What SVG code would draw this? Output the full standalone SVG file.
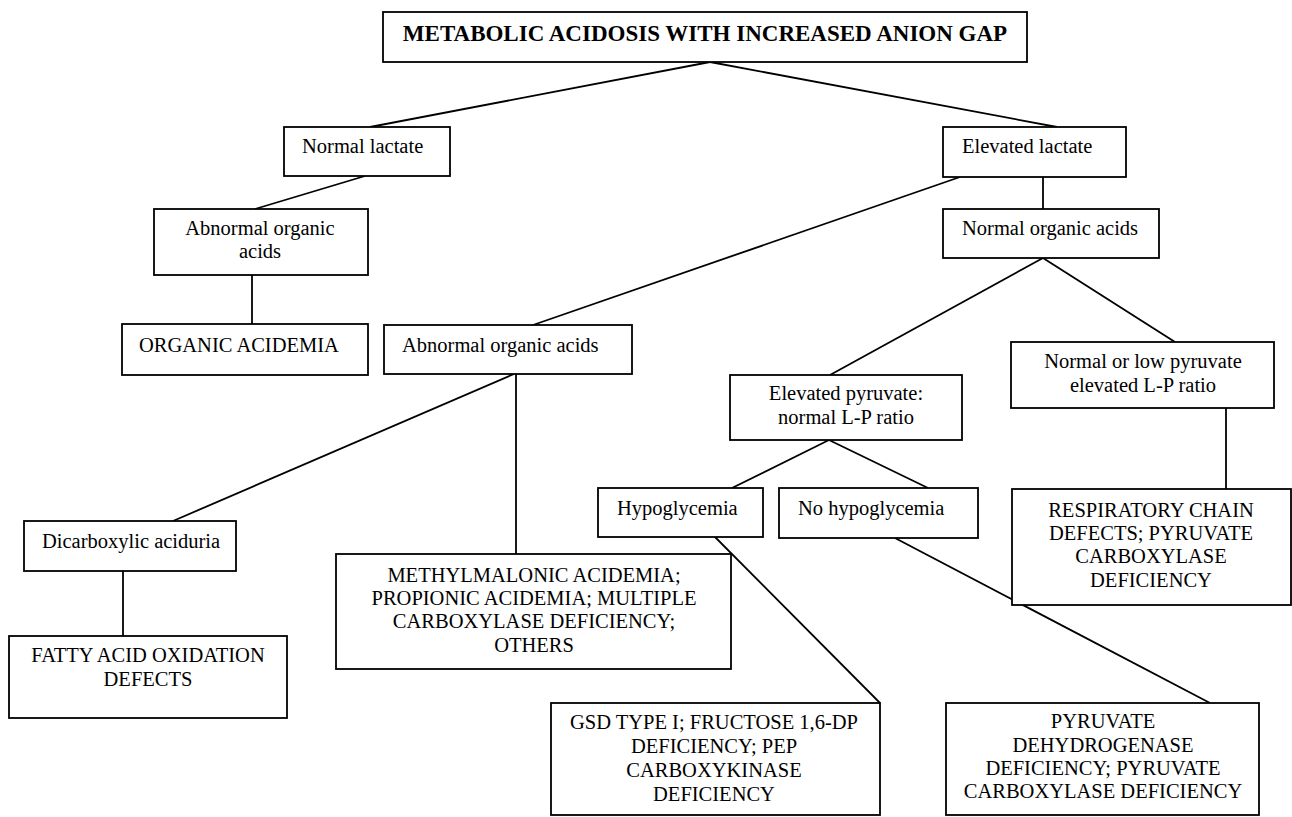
<svg xmlns="http://www.w3.org/2000/svg" width="1292" height="817" viewBox="0 0 1292 817">
<style>
.box{fill:#fff;stroke:#000;stroke-width:1.8}
.t{font-family:"Liberation Serif","Times New Roman",serif;font-size:20.5px;fill:#000}
.c{text-anchor:middle}
.title{font-family:"Liberation Serif","Times New Roman",serif;font-size:23px;font-weight:bold;fill:#000;text-anchor:middle}
.ln{stroke:#000;stroke-width:1.8;fill:none}
</style>
<rect width="1292" height="817" fill="#fff"/>
<g id="connectors">
<line class="ln" x1="710" y1="62" x2="370" y2="127"/>
<line class="ln" x1="710" y1="62" x2="1057" y2="127"/>
<line class="ln" x1="365" y1="176" x2="255" y2="209"/>
<line class="ln" x1="252" y1="275" x2="252" y2="324"/>
<line class="ln" x1="960" y1="177" x2="533" y2="325"/>
<line class="ln" x1="1043" y1="177" x2="1043" y2="209"/>
<line class="ln" x1="1043" y1="258" x2="830" y2="375"/>
<line class="ln" x1="1043" y1="258" x2="1175" y2="342"/>
<line class="ln" x1="1226" y1="408" x2="1226" y2="489"/>
<line class="ln" x1="514" y1="374" x2="173" y2="521"/>
<line class="ln" x1="516" y1="374" x2="516" y2="554"/>
<line class="ln" x1="123" y1="571" x2="123" y2="636"/>
<line class="ln" x1="829" y1="440" x2="732" y2="488"/>
<line class="ln" x1="829" y1="440" x2="928" y2="488"/>
<line class="ln" x1="715" y1="537" x2="880" y2="703"/>
<line class="ln" x1="895" y1="538" x2="1210" y2="703"/>
</g>
<g id="n-title"><rect class="box" x="383" y="12" width="644" height="50"/><text class="title" x="705" y="41">METABOLIC ACIDOSIS WITH INCREASED ANION GAP</text></g>
<g id="n-normal-lactate"><rect class="box" x="284" y="127" width="166" height="49"/><text class="t" x="302" y="153">Normal lactate</text></g>
<g id="n-elevated-lactate"><rect class="box" x="943" y="127" width="183" height="50"/><text class="t" x="962" y="153">Elevated lactate</text></g>
<g id="n-abn-oa-left"><rect class="box" x="154" y="209" width="214" height="66"/><text class="t c" x="260" y="235">Abnormal organic</text><text class="t c" x="260" y="258">acids</text></g>
<g id="n-normal-oa"><rect class="box" x="943" y="209" width="216" height="49"/><text class="t" x="962" y="235">Normal organic acids</text></g>
<g id="n-organic-acidemia"><rect class="box" x="122" y="324" width="246" height="51"/><text class="t" x="139" y="352">ORGANIC ACIDEMIA</text></g>
<g id="n-abn-oa-mid"><rect class="box" x="384" y="325" width="248" height="49"/><text class="t" x="402" y="352">Abnormal organic acids</text></g>
<g id="n-elev-pyruvate"><rect class="box" x="730" y="375" width="232" height="65"/><text class="t c" x="846" y="400">Elevated pyruvate:</text><text class="t c" x="846" y="424">normal L-P ratio</text></g>
<g id="n-normal-low-pyruvate"><rect class="box" x="1011" y="342" width="263" height="66"/><text class="t c" x="1143" y="368">Normal or low pyruvate</text><text class="t c" x="1143" y="392">elevated L-P ratio</text></g>
<g id="n-hypoglycemia"><rect class="box" x="598" y="488" width="165" height="49"/><text class="t" x="617" y="515">Hypoglycemia</text></g>
<g id="n-no-hypoglycemia"><rect class="box" x="779" y="488" width="199" height="50"/><text class="t" x="798" y="515">No hypoglycemia</text></g>
<g id="n-dicarboxylic"><rect class="box" x="24" y="521" width="212" height="50"/><text class="t" x="42" y="548">Dicarboxylic aciduria</text></g>
<g id="n-fatty-acid"><rect class="box" x="9" y="636" width="278" height="82"/><text class="t c" x="148" y="662">FATTY ACID OXIDATION</text><text class="t c" x="148" y="686">DEFECTS</text></g>
<g id="n-methylmalonic"><rect class="box" x="336" y="554" width="395" height="115"/><text class="t c" x="534" y="582">METHYLMALONIC ACIDEMIA;</text><text class="t c" x="534" y="605">PROPIONIC ACIDEMIA; MULTIPLE</text><text class="t c" x="534" y="628">CARBOXYLASE DEFICIENCY;</text><text class="t c" x="534" y="652">OTHERS</text></g>
<g id="n-respiratory"><rect class="box" x="1012" y="489" width="279" height="116"/><text class="t c" x="1151" y="517">RESPIRATORY CHAIN</text><text class="t c" x="1151" y="540">DEFECTS; PYRUVATE</text><text class="t c" x="1151" y="563">CARBOXYLASE</text><text class="t c" x="1151" y="587">DEFICIENCY</text></g>
<g id="n-gsd"><rect class="box" x="551" y="703" width="329" height="112"/><text class="t c" x="714" y="729">GSD TYPE I; FRUCTOSE 1,6-DP</text><text class="t c" x="714" y="753">DEFICIENCY; PEP</text><text class="t c" x="714" y="777">CARBOXYKINASE</text><text class="t c" x="714" y="801">DEFICIENCY</text></g>
<g id="n-pdh"><rect class="box" x="946" y="703" width="313" height="112"/><text class="t c" x="1103" y="728">PYRUVATE</text><text class="t c" x="1103" y="752">DEHYDROGENASE</text><text class="t c" x="1103" y="775">DEFICIENCY; PYRUVATE</text><text class="t c" x="1103" y="798">CARBOXYLASE DEFICIENCY</text></g>
</svg>
